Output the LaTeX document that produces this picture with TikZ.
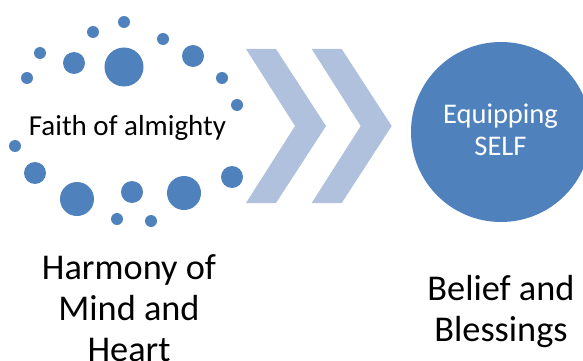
\documentclass[tikz,border=0pt]{standalone}
\usepackage{fontspec}
\setmainfont{Carlito}
\definecolor{dotblue}{HTML}{4F81BD}
\definecolor{chev}{HTML}{B0C1DE}
\begin{document}
\begin{tikzpicture}[x=1pt,y=-1pt,
  dot/.style={fill=dotblue,draw=none},
  chevshape/.style={fill=chev,draw=none},
  captext/.style={font=\fontsize{36.3}{41}\selectfont,align=center,anchor=base,inner sep=0pt},
  innertext/.style={font=\fontsize{29}{34}\selectfont,anchor=base,inner sep=0pt}]
\useasboundingbox (0,0) rectangle (583,361);
\fill[white] (0,0) rectangle (583,361);
% dots ring
\foreach \x/\y/\r in {124/22/6, 93/32/6, 163/39/6, 40/53/6, 74/63/11, 124/67/19.5, 193/56/11,
  27/78/6, 222/78/6, 237/105/6, 15/146/6, 35/173/11, 77/199/17, 132/192/11, 184/193/17,
  232/177/11, 117/219/6, 151/221/6}
  \fill[dot] (\x,\y) circle (\r);
\node[innertext] (faith) at (127.5,135) {Faith of almighty};
% chevrons
\fill[chevshape] (246,49) -- (276,49) -- (326,126) -- (276,203) -- (246,203) -- (295,126) -- cycle;
\fill[chevshape] (311.7,49) -- (341.7,49) -- (391.7,126) -- (341.7,203) -- (311.7,203) -- (360.7,126) -- cycle;
% big circle
\fill[dotblue] (501,132) circle (90);
\node[innertext,font=\fontsize{28.5}{32}\selectfont,text=white,align=center] (equip) at (500.5,155) {Equipping\\SELF};
% captions
\node[captext] (harmony) at (129,361) {Harmony of\\Mind and\\Heart};
\node[captext] (belief) at (501,341) {Belief and\\Blessings};
\end{tikzpicture}
\end{document}
